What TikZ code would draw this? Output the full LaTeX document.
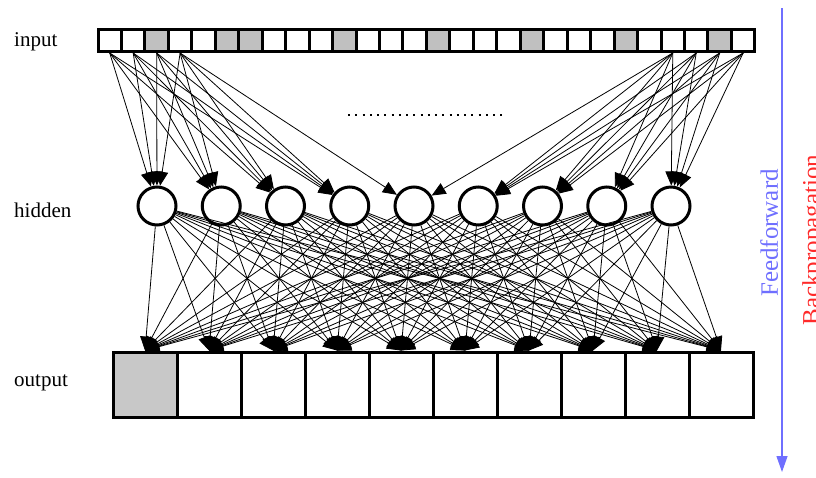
\documentclass[tikz,border=0pt]{standalone}
\usepackage{fontspec}
\setmainfont{Liberation Serif}
\usetikzlibrary{arrows.meta}
\definecolor{cellgray}{HTML}{C0C0C0}
\definecolor{outgray}{HTML}{C8C8C8}
\definecolor{ffblue}{HTML}{6F6FFF}
\definecolor{bpred}{HTML}{FF2A2A}
\begin{document}
\begin{tikzpicture}[x=1pt,y=-1pt,
  cell/.style={draw, line width=3pt, minimum width=23.46pt, minimum height=22pt, inner sep=0pt, fill=white},
  hid/.style={circle, draw, line width=3pt, minimum size=38pt, inner sep=0pt, fill=white},
  outbox/.style={draw, line width=3pt, minimum width=64pt, minimum height=65pt, inner sep=0pt, fill=white},
  wire/.style={line width=0.8pt, -{Triangle[length=14pt,width=12pt]}},
  lab/.style={font=\fontsize{21}{25}\selectfont, anchor=west, inner sep=0pt},
  sidelab/.style={rotate=90, anchor=north, inner sep=0pt, font=\fontsize{25}{30}\selectfont},
]
\path[use as bounding box] (0,0) rectangle (816,477);
\clip (0,0) rectangle (816,477);

% input row
\foreach \k in {1,...,28}{
  \pgfmathparse{or(mod(\k,4)==3,\k==6)}
  \ifnum\pgfmathresult=1
    \node[cell, fill=cellgray] (in\k) at ({98+23.46*(\k-0.5)},40.5) {};
  \else
    \node[cell] (in\k) at ({98+23.46*(\k-0.5)},40.5) {};
  \fi
}

% hidden layer
\foreach \i in {1,...,9}{
  \node[hid] (h\i) at ({157+64.25*(\i-1)},206) {};
}

% output row
\foreach \j in {1,...,10}{
  \ifnum\j=1
    \node[outbox, fill=outgray] (o\j) at ({145+64*(\j-1)},384.5) {};
  \else
    \node[outbox] (o\j) at ({145+64*(\j-1)},384.5) {};
  \fi
}

% input -> hidden
\foreach \k in {1,...,4}{
  \foreach \i in {1,...,4}{
    \draw[wire] (in\k.south) -- (h\i);
  }
}
\draw[wire] (in4.south) -- (h5);
\foreach \k in {25,...,28}{
  \foreach \i in {6,...,9}{
    \draw[wire] (in\k.south) -- (h\i);
  }
}
\draw[wire] (in25.south) -- (h5);

% hidden -> output
\foreach \i in {1,...,9}{
  \foreach \j in {1,...,10}{
    \draw[wire] (h\i) -- (o\j.north);
  }
}

% dotted ellipsis
\coordinate (d1) at (348,115);
\coordinate (d2) at (502,115);
\draw[line width=2pt, dash pattern=on 2pt off 5.25pt] (d1) -- (d2);

% labels
\node[lab] (tin) at (14,42) {input};
\node[lab] (thid) at (14,210) {hidden};
\node[lab] (tout) at (14,383) {output};

% direction arrow and side labels
\coordinate (fa) at (782,8);
\coordinate (fb) at (782,472);
\draw[ffblue, line width=1.3pt, -{Triangle[length=16pt,width=11pt]}] (fa) -- (fb);
\node[sidelab, text=ffblue] (ff) at (760,233) {Feedforward};
\node[sidelab, text=bpred] (bp) at (802,240) {Backpropagation};
\end{tikzpicture}
\end{document}
